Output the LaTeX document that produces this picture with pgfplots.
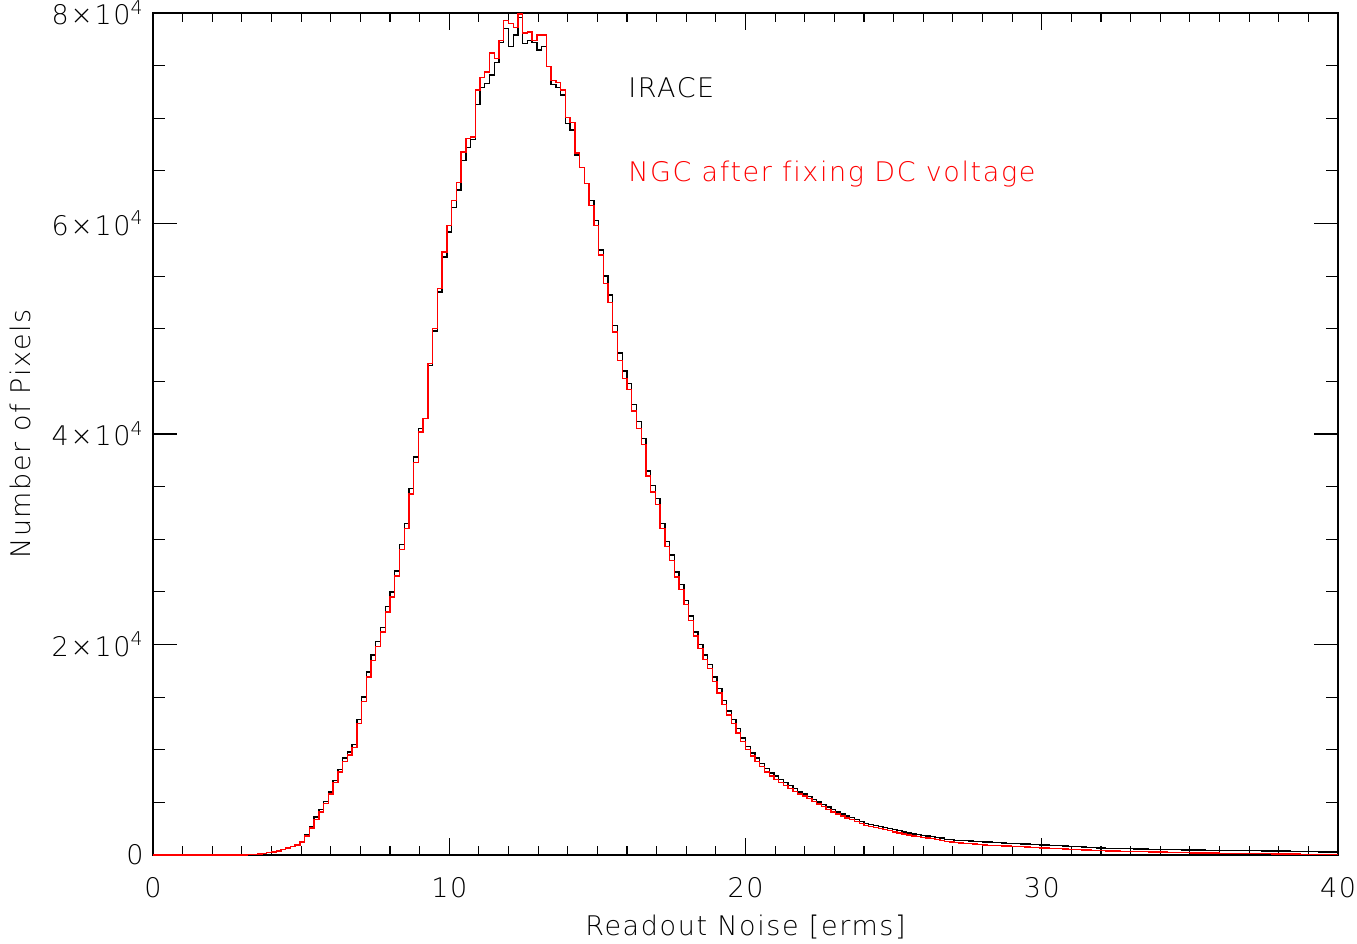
\documentclass[border=0pt]{standalone}
\usepackage{pgfplots}
\pgfplotsset{compat=1.18}
\usepackage{pgfplotstable}
\usepackage{fontspec}
\IfFontExistsTF{DejaVu Sans ExtraLight}{\setmainfont{DejaVu Sans ExtraLight}[LetterSpace=6,Ligatures=NoCommon]}{\setmainfont{DejaVu Sans}[LetterSpace=6,Ligatures=NoCommon]}
\pgfplotstableread{
x b r
0 0 0
3.04 10 10
3.20 30 30
3.36 60 60
3.52 100 95
3.68 160 150
3.84 230 220
4.00 300 290
4.16 400 390
4.32 520 500
4.48 680 650
4.64 820 790
4.80 1000 960
4.96 1300 1250
5.12 1900 1800
5.28 2700 2550
5.44 3600 3400
5.60 4300 4100
5.76 5100 4900
5.92 6000 5800
6.08 7100 6900
6.24 8100 7900
6.40 9200 8900
6.56 9800 9500
6.72 10500 10200
6.88 12900 12500
7.04 15000 14600
7.20 17400 16900
7.36 19000 18500
7.52 20300 19800
7.68 21600 21200
7.84 23600 23100
8.00 25000 24500
8.16 27000 26500
8.32 29500 29000
8.48 31500 31000
8.64 34800 34300
8.80 37800 37300
8.96 40500 40200
9.12 41500 41500
9.28 46500 46700
9.44 49800 50000
9.60 53500 53800
9.76 56800 57300
9.92 59200 59800
10.08 61500 62200
10.24 63200 63900
10.40 66000 66800
10.56 67200 68100
10.72 68000 68200
10.88 71300 72700
11.04 72900 73900
11.20 73300 74400
11.36 74100 76200
11.52 75300 75700
11.68 77200 77400
11.84 78500 79300
12.00 76800 79000
12.16 77900 78600
12.32 79600 79900
12.48 77100 78100
12.64 77400 78200
12.80 77200 77400
12.96 76500 77900
13.12 76800 77900
13.28 74900 74900
13.44 73200 73600
13.60 72900 73400
13.76 72200 72700
13.92 69500 70100
14.08 68900 69600
14.24 66500 66700
14.40 65300 65300
14.56 63800 63800
14.72 62200 61700
14.88 60300 59800
15.04 57500 57000
15.20 55000 54300
15.36 53200 52500
15.52 50300 49700
15.68 47700 47000
15.84 46000 45300
16.00 44800 44200
16.16 42800 42200
16.32 41200 40500
16.48 39600 39000
16.64 36500 36000
16.80 35100 34500
16.96 33900 33300
17.12 31500 31000
17.28 29800 29300
17.44 28500 28000
17.60 26900 26400
17.76 25700 25200
17.92 24200 23800
18.08 22700 22300
18.24 21200 20800
18.40 20000 19600
18.56 19000 18600
18.72 18100 17700
18.88 16900 16500
19.04 15800 15400
19.20 14700 14300
19.36 13700 13300
19.52 12900 12500
19.68 12000 11600
19.84 11100 10800
20.00 10300 10000
20.16 9700 9400
20.32 9200 8900
20.48 8700 8400
20.64 8200 7900
20.80 7800 7500
20.96 7500 7200
21.12 7200 6900
21.28 6900 6600
21.44 6600 6300
21.60 6300 6050
21.76 6000 5800
21.92 5800 5600
22.08 5550 5350
22.24 5300 5100
22.40 5050 4850
22.56 4800 4600
22.72 4550 4350
22.88 4300 4100
23.04 4100 3900
23.20 3900 3700
23.36 3700 3500
23.52 3550 3350
23.68 3400 3200
23.84 3200 3000
24.00 3000 2800
24.16 2900 2700
24.32 2800 2600
24.48 2700 2500
24.64 2600 2400
24.80 2500 2300
24.96 2400 2200
25.12 2300 2100
25.28 2200 2000
25.44 2100 1900
25.60 2000 1800
25.76 1950 1750
25.92 1850 1650
26.08 1800 1600
26.24 1750 1550
26.40 1650 1450
26.56 1600 1400
26.72 1500 1300
26.88 1450 1250
27.04 1400 1200
27.20 1380 1150
27.36 1350 1100
27.52 1320 1080
27.68 1300 1050
27.84 1270 1000
28.00 1250 950
28.16 1220 930
28.32 1200 910
28.48 1180 890
28.64 1150 870
28.80 1120 850
28.96 1100 820
29.12 1070 800
29.28 1050 780
29.44 1030 760
29.60 1000 730
29.76 980 700
29.92 960 680
30.08 950 650
30.24 920 630
30.40 900 610
30.56 880 590
30.72 850 570
30.88 830 550
31.04 800 530
31.20 780 510
31.36 750 490
31.52 720 470
31.68 700 450
31.84 680 430
32.00 650 400
32.16 640 390
32.32 630 380
32.48 620 370
32.64 610 360
32.80 600 350
32.96 590 340
33.12 580 330
33.28 570 320
33.44 560 310
33.60 550 300
33.76 540 290
33.92 530 280
34.08 520 270
34.24 510 260
34.40 500 250
34.56 495 240
34.72 490 230
34.88 480 220
35.04 470 200
35.20 465 195
35.36 460 190
35.52 455 185
35.68 450 180
35.84 445 175
36.00 440 170
36.16 435 165
36.32 430 160
36.48 425 155
36.64 420 150
36.80 415 145
36.96 410 140
37.12 405 135
37.28 400 130
37.44 395 125
37.60 390 120
37.76 385 110
37.92 380 100
38.08 375 95
38.24 370 90
38.40 360 85
38.56 350 80
38.72 340 75
38.88 330 70
39.04 320 65
39.20 310 60
39.36 300 55
39.52 295 50
39.68 290 50
39.84 290 50
40.00 290 50
}\hist
\begin{document}
\fontsize{13.5}{16}\selectfont
\begin{tikzpicture}
\path[use as bounding box] (-76.5pt,-44.5pt) rectangle (602pt,427.5pt);
\begin{axis}[
  scale only axis, width=592.5pt, height=421pt,
  xmin=0, xmax=40, ymin=0, ymax=80000,
  axis line style={line width=0.6pt},
  tick align=inside,
  tick style={line width=0.6pt, black},
  xtick={0,10,20,30,40}, xticklabels={0,10,20,30,40},
  minor x tick num=9,
  ytick={0,20000,40000,60000,80000},
  yticklabels={0,{2×10\textsuperscript{4}},{4×10\textsuperscript{4}},{6×10\textsuperscript{4}},{8×10\textsuperscript{4}}},
  minor y tick num=3,
  scaled y ticks=false,
  xtick style={/pgfplots/major tick length=8.5pt, /pgfplots/minor tick length=4.5pt},
  ytick style={/pgfplots/major tick length=12pt, /pgfplots/minor tick length=6pt},
  xticklabel style={anchor=north, yshift=-6.5pt},
  yticklabel style={anchor=east},
  every axis x label/.style={at={([yshift=-40pt]axis description cs:0.5,0)}, anchor=base},
  every axis y label/.style={at={([xshift=-61pt]axis description cs:0,0.5)}, rotate=90, anchor=base},
  xlabel={Readout Noise [erms]},
  ylabel={Number of Pixels},
]
\addplot[const plot mark left, black, line width=0.7pt] table[x=x, y=b] {\hist};
\addplot[const plot mark left, red, line width=0.7pt] table[x=x, y=r] {\hist};
\node[anchor=base west, inner sep=0pt, black] at (axis cs:16.03,72000) {IRACE};
\node[anchor=base west, inner sep=0pt, red] at (axis cs:16.03,64000) {NGC after fixing DC voltage};
\end{axis}
\end{tikzpicture}
\end{document}
